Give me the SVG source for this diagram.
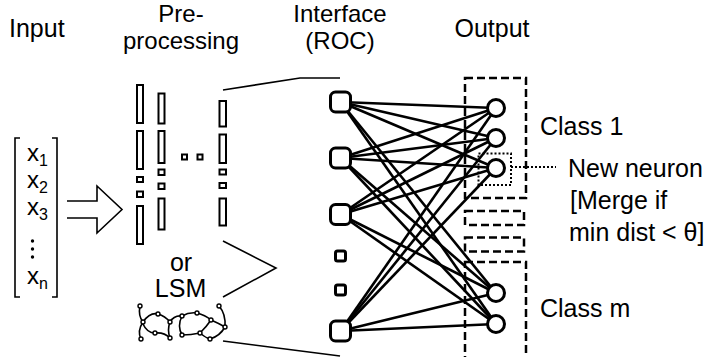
<svg xmlns="http://www.w3.org/2000/svg" width="707" height="357" viewBox="0 0 707 357">
  <style>
    text { font-family: "Liberation Sans", Arial, sans-serif; font-size: 25px; fill: #000; }
    .head2 { font-size: 24px; }
    .vec { font-size: 24px; }
    .sub { font-size: 16px; }
    .bar { fill: #fff; stroke: #000; stroke-width: 2; }
    .thin { fill: none; stroke: #000; stroke-width: 1.6; }
    .lsm { fill: none; stroke: #000; stroke-width: 1.6; }
    .lsmnode { fill: #fff; stroke: #000; stroke-width: 1.4; }
    .edge { stroke: #000; stroke-width: 2.6; }
    .inode { fill: #fff; stroke: #000; stroke-width: 3; }
    .onode { fill: #fff; stroke: #000; stroke-width: 3; }
    .dash { fill: none; stroke: #000; stroke-width: 2.5; stroke-dasharray: 8 4; }
    .dot { fill: none; stroke: #000; stroke-width: 2; stroke-dasharray: 2 2; }
  </style>

  <rect width="707" height="357" fill="#fff"/>

  <!-- column headings -->
  <g id="headings">
    <text x="9" y="37">Input</text>
    <text class="head2" x="181" y="22" text-anchor="middle">Pre-</text>
    <text class="head2" x="181" y="49" text-anchor="middle">processing</text>
    <text class="head2" x="340" y="22" text-anchor="middle">Interface</text>
    <text class="head2" x="340" y="49" text-anchor="middle">(ROC)</text>
    <text x="492" y="37" text-anchor="middle">Output</text>
  </g>

  <!-- input vector -->
  <g id="input">
    <path class="thin" d="M20,138 H15 V297 H20"/>
    <path class="thin" d="M52,138 H57 V297 H52"/>
    <text class="vec" x="27" y="161">x<tspan class="sub" dy="5">1</tspan></text>
    <text class="vec" x="27" y="188">x<tspan class="sub" dy="5">2</tspan></text>
    <text class="vec" x="27" y="215">x<tspan class="sub" dy="5">3</tspan></text>
    <circle cx="32.5" cy="241" r="1.7"/>
    <circle cx="32.5" cy="249" r="1.7"/>
    <circle cx="32.5" cy="257" r="1.7"/>
    <text class="vec" x="27" y="284">x<tspan class="sub" dy="5">n</tspan></text>
  </g>

  <!-- hollow block arrow -->
  <g id="arrow">
    <path class="thin" d="M67,201 H97 V186 L122,209.5 L97,233 V218 H67" stroke-linejoin="miter"/>
  </g>

  <!-- preprocessing filter bank -->
  <g id="preprocessing">
    <rect class="bar" x="137" y="85" width="6" height="38"/>
    <rect class="bar" x="137" y="131" width="6" height="38"/>
    <rect class="bar" x="137" y="177" width="6" height="5"/>
    <rect class="bar" x="137" y="191.5" width="6" height="5.5"/>
    <rect class="bar" x="137" y="206" width="6" height="38"/>

    <rect class="bar" x="158.5" y="93.5" width="6" height="30"/>
    <rect class="bar" x="158.5" y="131" width="6" height="32"/>
    <rect class="bar" x="158.5" y="169.5" width="6" height="5.5"/>
    <rect class="bar" x="158.5" y="183.5" width="6" height="5.5"/>
    <rect class="bar" x="158.5" y="198.5" width="6" height="31"/>

    <rect class="bar" x="182" y="154.5" width="5" height="5"/>
    <rect class="bar" x="197.5" y="154.5" width="5" height="5"/>

    <rect class="bar" x="219.5" y="101" width="6.5" height="25.5"/>
    <rect class="bar" x="219.5" y="134.5" width="6.5" height="28.5"/>
    <rect class="bar" x="219.5" y="169.5" width="6.5" height="5"/>
    <rect class="bar" x="219.5" y="183" width="6.5" height="5"/>
    <rect class="bar" x="219.5" y="198.5" width="6.5" height="27"/>

    <text x="181" y="271" text-anchor="middle">or</text>
    <text x="180.5" y="297" text-anchor="middle">LSM</text>
  </g>

  <!-- liquid state machine sketch -->
  <g id="lsm">
    <path class="lsm" d="M140,306 Q138,316 143,322"/>
    <path class="lsm" d="M143,322 Q150,312 158,314 Q165,316 170,322"/>
    <path class="lsm" d="M143,322 Q137,331 141,339"/>
    <path class="lsm" d="M143,324 Q147,333 155,333 Q164,332 170,338"/>
    <path class="lsm" d="M170,322 Q167,330 170,338"/>
    <path class="lsm" d="M170,322 Q174,315 182,316 Q189,312 197,313 Q205,315 211,320 Q218,323 225,327"/>
    <path class="lsm" d="M182,316 Q177,326 182,335 Q191,335 200,333 Q206,338 210,339 Q220,336 225,327"/>
    <path class="lsm" d="M200,333 Q207,326 211,320"/>
    <path class="lsm" d="M219,306 Q226,314 225,327"/>
    <g>
      <circle class="lsmnode" cx="140" cy="306" r="2"/>
      <circle class="lsmnode" cx="143" cy="322" r="2"/>
      <circle class="lsmnode" cx="158" cy="314" r="2"/>
      <circle class="lsmnode" cx="155" cy="333" r="2"/>
      <circle class="lsmnode" cx="141" cy="339" r="2"/>
      <circle class="lsmnode" cx="170" cy="322" r="2"/>
      <circle class="lsmnode" cx="170" cy="338" r="2"/>
      <circle class="lsmnode" cx="182" cy="316" r="2"/>
      <circle class="lsmnode" cx="197" cy="313" r="2"/>
      <circle class="lsmnode" cx="211" cy="320" r="2"/>
      <circle class="lsmnode" cx="182" cy="335" r="2"/>
      <circle class="lsmnode" cx="200" cy="333" r="2"/>
      <circle class="lsmnode" cx="219" cy="306" r="2"/>
      <circle class="lsmnode" cx="225" cy="327" r="2"/>
      <circle class="lsmnode" cx="210" cy="339" r="2"/>
    </g>
  </g>

  <!-- fan-in lines towards the interface layer -->
  <g id="fan-lines">
    <path class="thin" d="M223,90 L300,78 H340"/>
    <path class="thin" d="M223,241 L276,268 L223,297"/>
    <path class="thin" d="M223,341 L340,356"/>
  </g>

  <!-- class groupings -->
  <g id="class-boxes">
    <rect class="dash" x="465" y="78" width="61" height="120"/>
    <rect class="dash" x="465" y="211" width="59" height="14"/>
    <rect class="dash" x="465" y="237.5" width="59" height="14"/>
    <rect class="dash" x="465" y="262" width="61" height="110"/>
  </g>

  <!-- full connections interface -> output -->
  <g id="connectors">
    <line class="edge" x1="340.5" y1="102" x2="496" y2="108"/>
    <line class="edge" x1="340.5" y1="102" x2="496" y2="138"/>
    <line class="edge" x1="340.5" y1="102" x2="496" y2="168"/>
    <line class="edge" x1="340.5" y1="102" x2="496" y2="293"/>
    <line class="edge" x1="340.5" y1="102" x2="496" y2="324"/>

    <line class="edge" x1="340.5" y1="158" x2="496" y2="108"/>
    <line class="edge" x1="340.5" y1="158" x2="496" y2="138"/>
    <line class="edge" x1="340.5" y1="158" x2="496" y2="168"/>
    <line class="edge" x1="340.5" y1="158" x2="496" y2="293"/>
    <line class="edge" x1="340.5" y1="158" x2="496" y2="324"/>

    <line class="edge" x1="340.5" y1="214.5" x2="496" y2="108"/>
    <line class="edge" x1="340.5" y1="214.5" x2="496" y2="138"/>
    <line class="edge" x1="340.5" y1="214.5" x2="496" y2="168"/>
    <line class="edge" x1="340.5" y1="214.5" x2="496" y2="293"/>
    <line class="edge" x1="340.5" y1="214.5" x2="496" y2="324"/>

    <line class="edge" x1="340.5" y1="331" x2="496" y2="108"/>
    <line class="edge" x1="340.5" y1="331" x2="496" y2="138"/>
    <line class="edge" x1="340.5" y1="331" x2="496" y2="168"/>
    <line class="edge" x1="340.5" y1="331" x2="496" y2="293"/>
    <line class="edge" x1="340.5" y1="331" x2="496" y2="324"/>

    <!-- leader to the new-neuron note -->
    <line class="dot" x1="511" y1="167" x2="556" y2="167"/>
  </g>

  <!-- interface (ROC) nodes -->
  <g id="roc-1"><rect class="inode" x="330.5" y="92" width="20" height="20" rx="5"/></g>
  <g id="roc-2"><rect class="inode" x="330.5" y="148" width="20" height="20" rx="5"/></g>
  <g id="roc-3"><rect class="inode" x="330.5" y="204.5" width="20" height="20" rx="5"/></g>
  <g id="roc-gap-1"><rect class="inode" x="335.5" y="251" width="10" height="10" rx="2"/></g>
  <g id="roc-gap-2"><rect class="inode" x="335.5" y="285" width="10" height="10" rx="2"/></g>
  <g id="roc-4"><rect class="inode" x="330.5" y="321" width="20" height="20" rx="5"/></g>

  <!-- output neurons -->
  <g id="out-1"><circle class="onode" cx="496" cy="108" r="8.5"/></g>
  <g id="out-2"><circle class="onode" cx="496" cy="138" r="8.5"/></g>
  <g id="out-new">
    <circle class="onode" cx="496" cy="168" r="8.5"/>
    <rect class="dot" x="478.5" y="153.5" width="32.5" height="31.5"/>
  </g>
  <g id="out-m1"><circle class="onode" cx="496" cy="293" r="8.5"/></g>
  <g id="out-m2"><circle class="onode" cx="496" cy="324" r="8.5"/></g>

  <!-- labels on the output side -->
  <g id="labels">
    <text x="540" y="135">Class 1</text>
    <text x="540" y="316.5">Class m</text>
    <text x="568" y="176.5">New neuron</text>
    <text x="570" y="209">[Merge if</text>
    <text x="569" y="241">min dist &lt; θ]</text>
  </g>
</svg>
